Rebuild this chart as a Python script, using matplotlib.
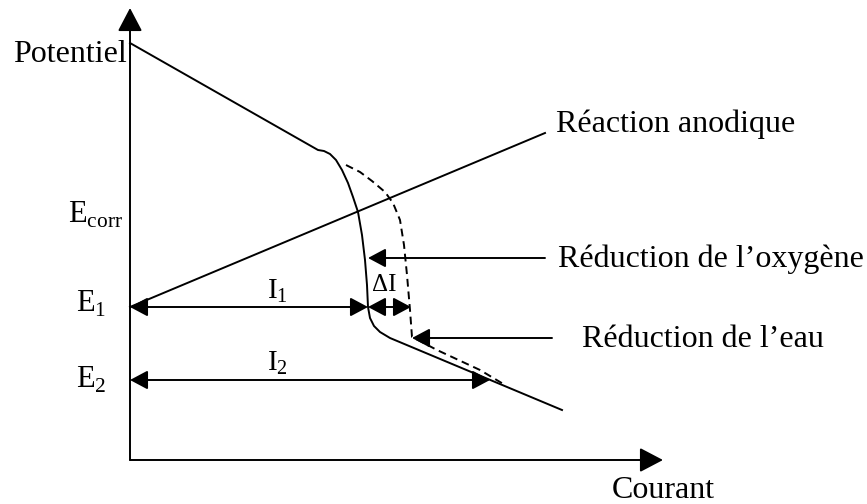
import matplotlib.pyplot as plt
from matplotlib.patches import FancyArrowPatch

plt.rcParams['font.family'] = ['Liberation Serif', 'DejaVu Serif']
plt.rcParams['mathtext.fontset'] = 'custom'
plt.rcParams['mathtext.rm'] = 'Liberation Serif'

# --- diagram data (pixel coordinates of the schematic, y downwards) ---
# cathodic curve, oxygen reduction (solid)
cath_x = [130, 318, 324, 330, 336, 342, 348, 353, 358, 362, 365, 367, 368, 370, 374, 380, 390, 562]
cath_y = [43, 150, 151, 154, 160, 170, 183, 197, 212, 235, 260, 285, 307, 318, 326, 332, 338, 410]
# shifted curve (dashed)
dash_x = [346, 360, 372, 385, 393, 400, 404, 407, 410, 412, 418, 437, 480, 505]
dash_y = [165, 172, 181, 192, 203, 220, 245, 275, 310, 337, 340, 350, 370, 385]
# anodic reaction line
anod_x = [130, 545]
anod_y = [307, 133]

# axes
origin = (130, 460)
y_axis_top = 8
x_axis_end = 663

# current arrows: (x_start, x_end, y)
i1_arrow = (130, 368, 307)
di_arrow = (368, 411, 307)
i2_arrow = (130, 490, 380)
# pointer arrows: (x_tail, x_tip, y)
oxy_arrow = (545, 368, 258)
eau_arrow = (552, 412, 338)

fig = plt.figure(figsize=(8.67, 5.04), dpi=100)
ax = fig.add_axes([0, 0, 1, 1])
ax.set_xlim(0, 867)
ax.set_ylim(504, 0)
ax.axis('off')

lw = 1.4
head = '-|>,head_length=0.6,head_width=0.32'
dhead = '<|-|>,head_length=0.6,head_width=0.32'


def arrow(p0, p1, style, ms=18):
    a = FancyArrowPatch(p0, p1, arrowstyle=style, mutation_scale=ms,
                        color='black', lw=lw, shrinkA=0, shrinkB=0)
    ax.add_patch(a)


# axes with arrows
arrow((origin[0], origin[1]), (origin[0], y_axis_top), '-|>,head_length=0.8,head_width=0.42')
arrow((origin[0], origin[1]), (x_axis_end, origin[1]), '-|>,head_length=0.8,head_width=0.42')

# curves
ax.plot(cath_x, cath_y, color='black', lw=lw, solid_joinstyle='round')
ax.plot(dash_x, dash_y, color='black', lw=lw, linestyle=(0, (4, 2.5)))
ax.plot(anod_x, anod_y, color='black', lw=lw)

# current arrows
arrow((i1_arrow[0], i1_arrow[2]), (i1_arrow[1], i1_arrow[2]), dhead)
arrow((di_arrow[0], di_arrow[2]), (di_arrow[1], di_arrow[2]), dhead)
arrow((i2_arrow[0], i2_arrow[2]), (i2_arrow[1], i2_arrow[2]), dhead)
arrow((oxy_arrow[0], oxy_arrow[2]), (oxy_arrow[1], oxy_arrow[2]), head)
arrow((eau_arrow[0], eau_arrow[2]), (eau_arrow[1], eau_arrow[2]), head)

# labels
big = 23
ax.text(127, 62, 'Potentiel', fontsize=big, ha='right', va='baseline')
ax.text(68, 223, r'$\mathrm{E}_{\mathrm{corr}}$', fontsize=22, ha='left', va='baseline')
ax.text(76, 312, r'$\mathrm{E}_{1}$', fontsize=22, ha='left', va='baseline')
ax.text(76, 388, r'$\mathrm{E}_{2}$', fontsize=22, ha='left', va='baseline')
ax.text(267, 298, r'$\mathrm{I}_{1}$', fontsize=21, ha='left', va='baseline')
ax.text(267, 370, r'$\mathrm{I}_{2}$', fontsize=21, ha='left', va='baseline')
ax.text(372, 291, 'ΔI', fontsize=18, ha='left', va='baseline')
ax.text(556, 132, 'Réaction anodique', fontsize=big, ha='left', va='baseline')
ax.text(558, 267, 'Réduction de l’oxygène', fontsize=big, ha='left', va='baseline')
ax.text(582, 347, 'Réduction de l’eau', fontsize=big, ha='left', va='baseline')
ax.text(663, 498, 'Courant', fontsize=big, ha='center', va='baseline')

fig.savefig('out.png', dpi=100)
